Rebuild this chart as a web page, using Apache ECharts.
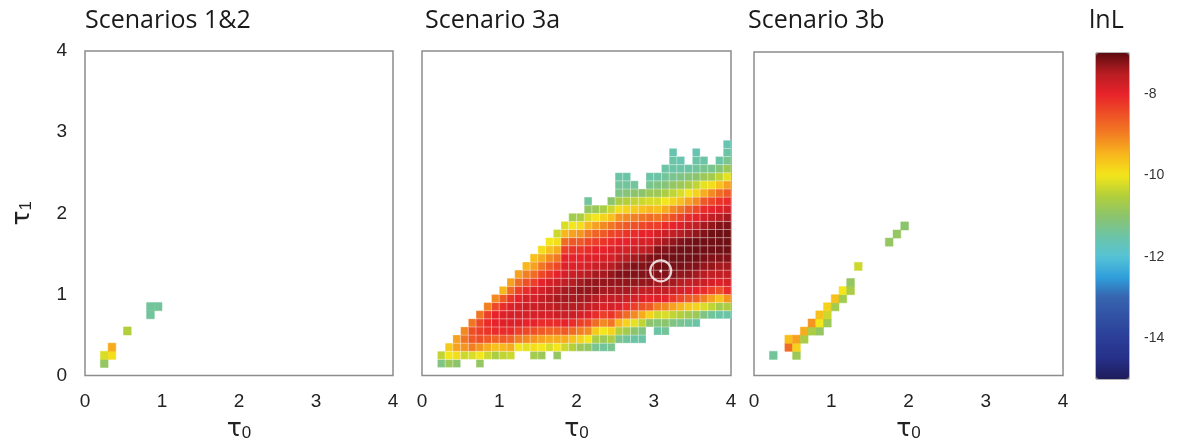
<!DOCTYPE html>
<html><head><meta charset="utf-8">
<script src="https://cdn.jsdelivr.net/npm/echarts@6/dist/echarts.min.js"></script>
<style>html,body{margin:0;padding:0;background:#fff}#c{width:1180px;height:447px}</style>
</head><body><div id="c"></div>
<script>
// ---------- data ----------
const axisTicks = [0, 1, 2, 3, 4];
const panelTitles = ['Scenarios 1&2', 'Scenario 3a', 'Scenario 3b'];
const colorbarTitle = 'lnL';
const lnLRange = [-15, -7];
const cellStep = 0.1;              // grid resolution of the likelihood surface (tau units)

// Scenarios 1&2: [tau0 cell start, tau1 cell start, lnL]
const s12Cells = [
  [0.2, 0.1, -10.9], [0.2, 0.2, -10.2], [0.3, 0.2, -9.9], [0.3, 0.3, -9.4],
  [0.5, 0.5, -10.5],
  [0.8, 0.7, -11.4], [0.8, 0.8, -11.4], [0.9, 0.8, -11.4]
];

// Scenario 3a: one column per tau0 cell (starting at column s3aFirstCol),
// lowest tau1 row of each column, and lnL values upward from that row
const s3aFirstCol = 2;
const s3aLowRow = [1,1,1,2,2,1,2,2,2,2,3,3,2,2,3,2,3,3,3,3,3,3,3,4,4,4,4,6,5,5,6,6,6,6,7,7,7,7];
const s3aCols = [
  [-11.2,-10.4],
  [-10.8,-10.0,-9.7],
  [-11.0,-9.9,-9.3,-9.3],
  [-10.3,-9.2,-8.9,-9.1],
  [-10.2,-9.0,-8.6,-8.5,-8.9],
  [-10.9,-10.0,-9.2,-8.5,-8.3,-8.4,-8.9],
  [-10.3,-9.4,-8.6,-8.2,-8.1,-8.3,-9.0],
  [-10.6,-9.6,-8.7,-8.1,-8.0,-8.0,-8.4,-9.1],
  [-10.4,-9.5,-8.6,-8.1,-7.9,-7.9,-8.1,-8.6,-9.5],
  [-10.3,-9.4,-8.7,-8.1,-7.9,-7.8,-7.9,-8.2,-8.8,-9.3],
  [-10.0,-9.0,-8.3,-7.9,-7.8,-7.8,-8.0,-8.3,-8.8,-9.3],
  [-10.1,-9.1,-8.4,-8.0,-7.8,-7.7,-7.8,-8.1,-8.5,-9.0,-9.5],
  [-10.7,-9.9,-9.2,-8.5,-8.0,-7.8,-7.7,-7.8,-7.9,-8.3,-8.8,-9.3,-9.6],
  [-10.8,-10.0,-9.3,-8.6,-8.1,-7.8,-7.6,-7.6,-7.8,-8.0,-8.4,-8.9,-9.4,-9.9],
  [-10.2,-9.4,-8.7,-8.1,-7.8,-7.6,-7.5,-7.6,-7.8,-8.2,-8.6,-9.1,-9.6,-10.0],
  [-10.9,-10.0,-9.4,-8.7,-8.1,-7.7,-7.5,-7.4,-7.5,-7.7,-8.0,-8.4,-8.9,-9.4,-9.9,-10.3],
  [-10.3,-9.4,-8.6,-8.0,-7.7,-7.5,-7.4,-7.4,-7.6,-7.8,-7.9,-8.0,-8.3,-8.8,-9.5,-10.2],
  [-10.5,-9.6,-8.8,-8.1,-7.7,-7.5,-7.4,-7.4,-7.5,-7.7,-7.9,-8.0,-8.2,-8.6,-9.3,-10.0,-10.7],
  [-10.8,-9.8,-9.0,-8.3,-7.8,-7.5,-7.4,-7.3,-7.4,-7.6,-7.9,-8.0,-8.2,-8.6,-9.2,-9.9,-10.6],
  [-10.9,-10.0,-9.1,-8.4,-7.9,-7.6,-7.4,-7.3,-7.3,-7.5,-7.8,-7.9,-8.1,-8.4,-8.9,-9.5,-10.2,-10.9,-11.4],
  [-11.3,-10.6,-9.7,-8.8,-8.1,-7.7,-7.5,-7.3,-7.3,-7.4,-7.7,-7.9,-8.0,-8.3,-8.7,-9.3,-10.0,-10.8],
  [-11.4,-10.8,-10.0,-9.1,-8.3,-7.9,-7.6,-7.4,-7.3,-7.4,-7.6,-7.8,-8.0,-8.2,-8.6,-9.1,-9.8,-10.6],
  [-11.3,-10.6,-9.8,-8.9,-8.2,-7.8,-7.6,-7.4,-7.3,-7.3,-7.5,-7.8,-7.9,-8.1,-8.4,-8.9,-9.6,-10.3,-11.0],
  [-11.3,-10.5,-9.5,-8.5,-7.9,-7.6,-7.4,-7.3,-7.2,-7.4,-7.6,-7.8,-8.0,-8.3,-8.7,-9.2,-9.9,-10.6,-11.2,-11.4,-11.5],
  [-11.4,-10.7,-9.8,-8.8,-8.1,-7.7,-7.4,-7.3,-7.2,-7.3,-7.5,-7.8,-8.0,-8.2,-8.6,-9.1,-9.8,-10.5,-11.1,-11.4,-11.5],
  [-11.5,-11.0,-10.1,-9.1,-8.3,-7.8,-7.5,-7.3,-7.2,-7.2,-7.4,-7.7,-7.9,-8.1,-8.5,-9.0,-9.7,-10.4,-11.0,-11.4],
  [-11.5,-11.2,-10.4,-9.4,-8.5,-7.9,-7.6,-7.3,-7.2,-7.2,-7.3,-7.6,-7.8,-8.0,-8.4,-8.9,-9.6,-10.3,-11.0],
  [-11.0,-9.8,-8.6,-8.0,-7.6,-7.3,-7.2,-7.15,-7.2,-7.5,-7.8,-8.0,-8.3,-8.8,-9.5,-10.2,-10.8,-11.3,-11.5],
  [-11.5,-11.1,-10.3,-9.0,-7.9,-7.6,-7.4,-7.2,-7.15,-7.15,-7.2,-7.5,-7.8,-8.3,-8.9,-9.6,-10.2,-10.8,-11.2,-11.5],
  [-11.4,-11.0,-10.2,-9.1,-8.0,-7.6,-7.3,-7.2,-7.1,-7.1,-7.2,-7.4,-7.7,-8.1,-8.7,-9.4,-10.0,-10.6,-11.1,-11.4,-11.5],
  [-11.2,-10.4,-9.3,-8.2,-7.7,-7.4,-7.2,-7.15,-7.1,-7.15,-7.3,-7.6,-8.0,-8.5,-9.1,-9.8,-10.4,-10.9,-11.3,-11.5,-11.5,-11.6],
  [-11.3,-10.5,-9.5,-8.4,-7.8,-7.5,-7.3,-7.15,-7.1,-7.1,-7.2,-7.5,-7.9,-8.3,-8.9,-9.6,-10.2,-10.8,-11.2,-11.5,-11.6],
  [-11.4,-10.7,-9.7,-8.6,-7.9,-7.6,-7.3,-7.2,-7.1,-7.1,-7.15,-7.4,-7.7,-8.1,-8.6,-9.3,-10.0,-10.6,-11.1,-11.5],
  [-11.5,-10.8,-9.8,-8.7,-8.0,-7.6,-7.4,-7.2,-7.1,-7.1,-7.1,-7.3,-7.6,-8.0,-8.4,-9.1,-9.8,-10.4,-11.0,-11.4,-11.5,-11.6],
  [-11.2,-10.2,-9.0,-8.1,-7.7,-7.5,-7.3,-7.15,-7.1,-7.1,-7.2,-7.4,-7.8,-8.1,-8.6,-9.4,-10.1,-10.8,-11.3,-11.5],
  [-11.4,-10.4,-9.3,-8.3,-7.8,-7.6,-7.3,-7.2,-7.1,-7.1,-7.1,-7.3,-7.6,-8.0,-8.4,-9.1,-9.9,-10.7,-11.3],
  [-11.5,-10.7,-9.6,-8.5,-7.9,-7.6,-7.4,-7.2,-7.1,-7.1,-7.1,-7.2,-7.5,-7.9,-8.2,-8.8,-9.6,-10.4,-11.1,-11.5],
  [-11.5,-10.6,-9.2,-8.1,-7.8,-7.6,-7.4,-7.2,-7.1,-7.1,-7.1,-7.2,-7.4,-7.8,-8.1,-8.6,-9.3,-10.1,-10.8,-11.3,-11.5,-11.6]
];

// Scenario 3b: [tau0 cell start, tau1 cell start, lnL]
const s3bCells = [
  [0.2, 0.2, -11.4],
  [0.4, 0.3, -8.8], [0.4, 0.4, -9.6],
  [0.5, 0.2, -10.8], [0.5, 0.3, -9.8], [0.5, 0.4, -9.3],
  [0.6, 0.4, -10.6], [0.6, 0.5, -9.4],
  [0.7, 0.5, -10.6], [0.7, 0.6, -9.2],
  [0.8, 0.5, -10.9], [0.8, 0.6, -10.0], [0.8, 0.7, -9.6],
  [0.9, 0.6, -10.8], [0.9, 0.7, -10.3], [0.9, 0.8, -9.8],
  [1.0, 0.8, -10.7], [1.0, 0.9, -9.6],
  [1.1, 0.9, -10.7], [1.1, 1.0, -10.0],
  [1.2, 1.0, -10.6], [1.2, 1.1, -10.9],
  [1.3, 1.3, -10.3],
  [1.7, 1.6, -10.9], [1.8, 1.7, -10.9], [1.9, 1.8, -11.0]
];

// maximum-likelihood estimate marked in Scenario 3a
const mlePoint = [3.09, 1.29];

// ---------- build ----------
const s3aCells = [];
s3aCols.forEach((col, k) => {
  const i = s3aFirstCol + k;
  col.forEach((v, m) => {
    const j = s3aLowRow[k] + m;
    s3aCells.push([+(i * cellStep).toFixed(1), +(j * cellStep).toFixed(1), v]);
  });
});

const jet = ['#1f1d5a','#263088','#2b3e98','#3150a3','#3764ae','#2f9fdc','#55c3d6',
             '#6cc4a6','#8cc46c','#b3cf3a','#f3e61b','#f8b71d','#f27f22','#ee5026',
             '#e8222a','#b81d22','#5e0b10'];

function cellRenderer(gridLines) {
  return function (params, api) {
    const x = api.value(0), y = api.value(1);
    const p0 = api.coord([x, y + cellStep]);
    const p1 = api.coord([x + cellStep, y]);
    return {
      type: 'rect',
      shape: { x: p0[0], y: p0[1], width: p1[0] - p0[0], height: p1[1] - p0[1] },
      style: {
        fill: api.visual('color'),
        stroke: gridLines ? 'rgba(255,255,255,0.45)' : api.visual('color'),
        lineWidth: gridLines ? 0.6 : 0.5
      }
    };
  };
}

const grids = [
  { left: 85, top: 51, width: 308, height: 326 },
  { left: 422, top: 51, width: 309, height: 326 },
  { left: 754, top: 52, width: 309, height: 327 }
].map(g => Object.assign(g, { show: true, borderColor: '#8c8c8c', borderWidth: 1.5, backgroundColor: 'transparent' }));
grids.push({ left: 1096, top: 53, width: 33, height: 326, show: true, borderColor: '#666', borderWidth: 1, backgroundColor: 'transparent' });

const labelFont = { fontSize: 19, color: '#222', fontFamily: 'Liberation Sans' };
const tauRich = {
  t: { fontSize: 25, fontFamily: 'DejaVu Sans', color: '#222' },
  s: { fontSize: 17, fontFamily: 'Liberation Sans', color: '#222', padding: [9, 0, 0, 0] }
};

const xAxes = [0, 1, 2].map(k => ({
  gridIndex: k, type: 'value', min: axisTicks[0], max: axisTicks[axisTicks.length - 1], interval: 1,
  axisLine: { show: false }, axisTick: { show: false }, splitLine: { show: false },
  axisLabel: Object.assign({ margin: 17 }, labelFont),
  name: '{t|τ}{s|0}', nameLocation: 'middle', nameGap: 39,
  nameTextStyle: { rich: tauRich }
}));
xAxes.push({ gridIndex: 3, type: 'value', min: 0, max: 1, show: false });

const yAxes = [0, 1, 2].map(k => ({
  gridIndex: k, type: 'value', min: axisTicks[0], max: axisTicks[axisTicks.length - 1], interval: 1,
  axisLine: { show: false }, axisTick: { show: false }, splitLine: { show: false },
  axisLabel: Object.assign({ margin: 18, show: k === 0 }, labelFont),
  name: k === 0 ? '{t|τ}{s|1}' : '', nameLocation: 'middle', nameGap: 50,
  nameTextStyle: { rich: tauRich }
}));
yAxes.push({
  gridIndex: 3, type: 'value', position: 'right', min: lnLRange[0], max: lnLRange[1], interval: 1,
  axisLine: { show: false }, axisTick: { show: false }, splitLine: { show: false },
  axisLabel: { margin: 15, fontSize: 14, color: '#333', fontFamily: 'Liberation Sans',
    formatter: v => (v % 2 === 0 ? String(v) : '') }
});

const titleStyle = { fontSize: 25, fontWeight: 'normal', fontFamily: 'Open Sans', color: '#1a1a1a' };
const titles = [
  { text: panelTitles[0], left: 85, top: 8 },
  { text: panelTitles[1], left: 425, top: 8 },
  { text: panelTitles[2], left: 748, top: 8 },
  { text: colorbarTitle, left: 1089, top: 8 }
].map(t => Object.assign(t, { padding: 0, textStyle: titleStyle }));

const option = {
  backgroundColor: '#fff',
  animation: false,
  title: titles,
  grid: grids,
  xAxis: xAxes,
  yAxis: yAxes,
  visualMap: {
    type: 'continuous', min: lnLRange[0], max: lnLRange[1], dimension: 2,
    seriesIndex: [0, 1, 2], orient: 'vertical', left: 1096, top: 53,
    itemWidth: 33, itemHeight: 326, padding: 0, calculable: false, hoverLink: false,
    text: null, showLabel: false, inRange: { color: jet }
  },
  series: [
    { type: 'custom', xAxisIndex: 0, yAxisIndex: 0, data: s12Cells, encode: { x: 0, y: 1 }, renderItem: cellRenderer(false) },
    { type: 'custom', xAxisIndex: 1, yAxisIndex: 1, data: s3aCells, encode: { x: 0, y: 1 }, renderItem: cellRenderer(true) },
    { type: 'custom', xAxisIndex: 2, yAxisIndex: 2, data: s3bCells, encode: { x: 0, y: 1 }, renderItem: cellRenderer(false) },
    { type: 'scatter', xAxisIndex: 1, yAxisIndex: 1, data: [mlePoint], symbol: 'circle', symbolSize: 21, z: 5,
      itemStyle: { color: 'rgba(0,0,0,0)', borderColor: '#fff', borderWidth: 2.2 }, silent: true },
    { type: 'scatter', xAxisIndex: 1, yAxisIndex: 1, data: [mlePoint], symbol: 'circle', symbolSize: 3, z: 5,
      itemStyle: { color: '#fff' }, silent: true }
  ]
};

const chart = echarts.init(document.getElementById('c'), null, { renderer: 'canvas' });
chart.setOption(option);
</script>
</body></html>
